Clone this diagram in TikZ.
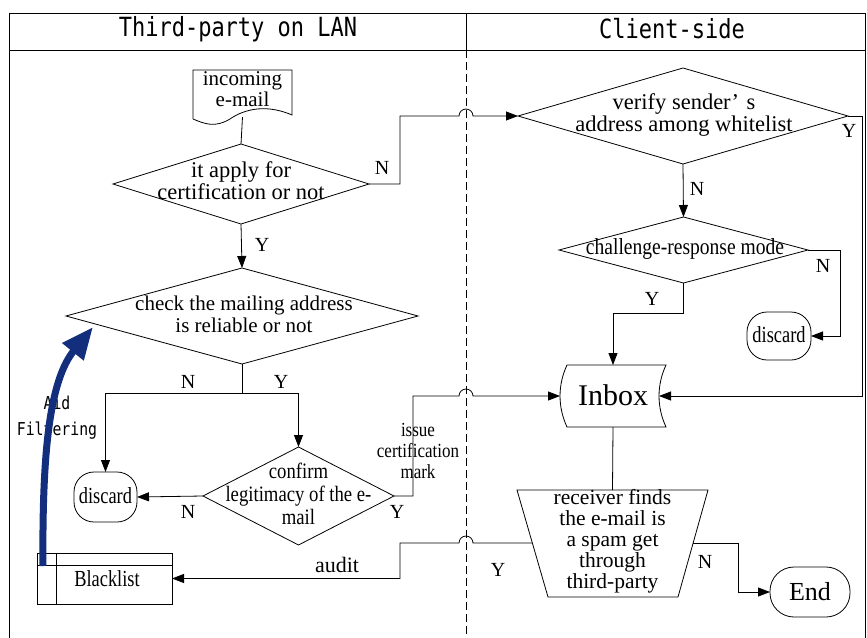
\documentclass[tikz,border=0pt]{standalone}
\usepackage{graphicx}
\usepackage{fontspec}
\setmainfont{Liberation Serif}
\newfontfamily\condf[FakeStretch=0.85]{Liberation Serif}
\newfontfamily\narrowf[FakeStretch=0.8]{Liberation Serif}
\newfontfamily\monof{DejaVu Sans Mono}
\usetikzlibrary{arrows.meta,shapes.geometric}
\definecolor{navyblue}{RGB}{18,46,124}
\begin{document}
\begin{tikzpicture}[x=1pt,y=-1pt,line width=0.8pt,
  arr/.style={-{Triangle[length=12pt,width=9pt]}},
  dia/.style={draw,shape=diamond,inner sep=0pt,outer sep=0pt},
  hidden/.style={draw=none,inner sep=0pt,outer sep=0pt},
  txt/.style={inner sep=0pt,align=center,font=\fontsize{21}{21}\selectfont},
  lab/.style={inner sep=0pt,font=\fontsize{20}{20}\selectfont},
  stadium/.style={draw,rectangle,rounded corners=20pt,inner sep=0pt,outer sep=0pt},
  title/.style={inner sep=0pt,font=\monof\fontsize{22}{22}\selectfont},
  mono/.style={inner sep=0pt,align=center,font=\monof\fontsize{14.8}{26}\selectfont},
  lane/.style={dash pattern=on 8pt off 4pt}]
\useasboundingbox (0,0) rectangle (867,637);
% frame
\draw (9,640) -- (9,13) -- (865,13) -- (865,640);
\draw (9,50) -- (865,50);
\draw (466,13) -- (466,50);
\draw[lane] (466,50) -- (466,637);
\node[title] (t1) at (238,29) {\scalebox{1}[1.2]{Third-party on LAN}};
\node[title] (t2) at (672,29) {\scalebox{1}[1.2]{Client-side}};
% incoming e-mail (document)
\node[hidden,minimum width=99pt,minimum height=47pt] (mail) at (242.5,93.5) {};
\draw (193,119) -- (193,70) -- (292,70) -- (292,115) .. controls (262,102) and (240,112) .. (230,119) .. controls (215,128) and (205,124) .. (193,119);
\node[txt] (mailt) at (242.5,89) {incoming\\e-mail};
% diamonds
\node[dia,minimum width=256pt,minimum height=80pt] (d1) at (241,184) {};
\node[txt,font=\fontsize{22.5}{20}\selectfont] (d1t) at (241,181) {it apply for\\certification or not};
\node[dia,minimum width=352pt,minimum height=96pt] (d2) at (242,316) {};
\node[txt,font=\fontsize{21}{22}\selectfont] (d2t) at (244,314) {check the mailing address\\is reliable or not};
\node[dia,minimum width=191pt,minimum height=98pt] (d3) at (298.5,496) {};
\node[txt,font=\condf\fontsize{22}{23}\selectfont] (d3t) at (298.5,494) {confirm\\legitimacy of the e-\\mail};
\node[dia,minimum width=330pt,minimum height=96pt] (v) at (683,116) {};
\node[txt,font=\fontsize{22.5}{22}\selectfont] (vt) at (684,115) {verify sender’\,\,s\\address among whitelist};
\node[dia,minimum width=249pt,minimum height=66pt] (ch) at (683.5,250) {};
\node[txt,font=\condf\fontsize{23}{23}\selectfont] (cht) at (685,249) {challenge-response mode};
% terminals
\node[stadium,minimum width=63pt,minimum height=50pt] (disc1) at (105.5,497) {};
\node[txt,font=\narrowf\fontsize{23}{23}\selectfont] (disc1t) at (105.5,496) {discard};
\node[stadium,minimum width=64pt,minimum height=48pt] (disc2) at (779,336) {};
\node[txt,font=\narrowf\fontsize{23}{23}\selectfont] (disc2t) at (779,335) {discard};
\node[stadium,rounded corners=24pt,minimum width=80pt,minimum height=50pt] (end) at (810,592) {};
\node[txt,font=\fontsize{26}{26}\selectfont] (endt) at (810,592) {End};
% blacklist
\node[draw,rectangle,inner sep=0pt,outer sep=0pt,minimum width=135pt,minimum height=51pt] (bl) at (104.5,578.5) {};
\draw (56,553) -- (56,604);
\draw (37,565) -- (172,565);
\node[txt,font=\narrowf\fontsize{23}{23}\selectfont] (blt) at (107,579) {Blacklist};
% inbox
\node[hidden,minimum width=106pt,minimum height=62pt] (inbox) at (613,396) {};
\draw (567,365) -- (666,365) .. controls (656.7,385) and (656.7,407) .. (666,427) -- (567,427) .. controls (557.7,407) and (557.7,385) .. (567,365);
\node[txt,font=\fontsize{30}{30}\selectfont] (inboxt) at (613,395) {Inbox};
\coordinate (inboxR) at (659,396);
% trapezoid
\node[hidden,minimum width=191pt,minimum height=107pt] (trap) at (612.5,543.5) {};
\draw (517,490) -- (708,490) -- (678,597) -- (548,597) -- cycle;
\node[txt,font=\fontsize{21.5}{21}\selectfont] (trapt) at (612.5,541) {receiver finds\\the e-mail is\\a spam get\\through\\third-party};
\coordinate (trapL) at (532,543);
\coordinate (trapR) at (693,543);
% connectors
\draw (mail.south) -- (d1.north);
\draw[arr] (d1.east) -- (400,184) -- (400,116) -- (459,116) arc[start angle=180,end angle=0,radius=7pt] -- (v.west);
\node[lab] (n1) at (382,168) {N};
\draw[arr] (d1.south) -- (d2.north);
\node[lab] (y1) at (262,245) {Y};
\coordinate (split) at (242,393);
\draw (d2.south) -- (split);
\draw[arr] (split) -| (disc1.north);
\draw[arr] (split) -| (d3.north);
\node[lab] (n2) at (188,382) {N};
\node[lab] (y2) at (281,382) {Y};
\draw[arr] (d3.west) -- (disc1.east);
\node[lab] (n3) at (188,512) {N};
\draw[arr] (d3.east) -- (413,496) -- (413,396) -- (459,396) arc[start angle=180,end angle=0,radius=7pt] -- (inbox.west);
\node[lab] (y3) at (397,512) {Y};
\node[txt,font=\condf\fontsize{20}{21}\selectfont] (issue) at (418,451) {issue\\certification\\mark};
\draw[arr] (v.east) -- (862,116) -- (862,396) -- (inboxR);
\node[lab] (y4) at (849,131) {Y};
\draw[arr] (v.south) -- (ch.north);
\node[lab] (n4) at (697,189) {N};
\draw[arr] (ch.east) -- (840,250) -- (840,336) -- (disc2.east);
\node[lab] (n5) at (823,266) {N};
\draw[arr] (ch.south) -- (683.5,313) -- (613,313) -- (inbox.north);
\node[lab] (y5) at (652,299) {Y};
\draw (inbox.south) -- (trap.north);
\draw[arr] (trapL) -- (473,543) arc[start angle=0,end angle=180,radius=7pt] -- (400,543) -- (400,578.5) -- (bl.east);
\node[lab,font=\fontsize{22}{22}\selectfont] (audit) at (337,565) {audit};
\node[lab] (y6) at (498,570) {Y};
\draw[arr] (trapR) -- (738,543) -- (738,592) -- (end.west);
\node[lab] (n6) at (705,562) {N};
% aid filtering
\node[mono] (aid) at (57,418) {\scalebox{1}[1.2]{Aid}\\\scalebox{1}[1.2]{Filtering}};
\coordinate (blA) at (43,566);
\coordinate (d2A) at (93,327);
\draw[navyblue,line width=7pt,-{Triangle[length=32pt,width=26pt]}] (blA) .. controls (42,450) and (50,380) .. (d2A);
\end{tikzpicture}
\end{document}
